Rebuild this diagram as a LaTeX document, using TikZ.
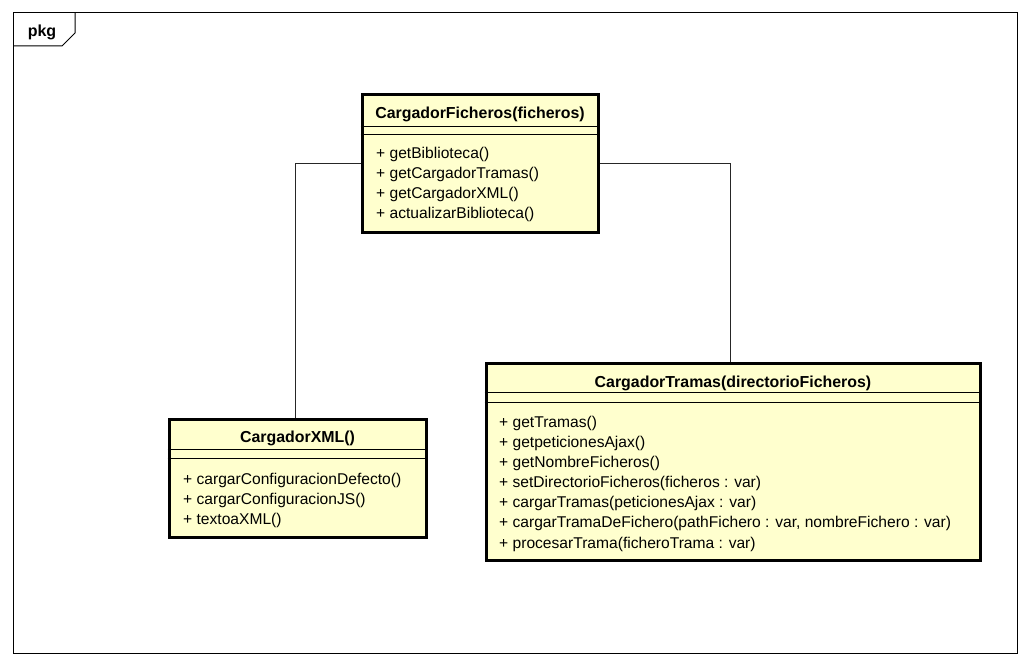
\documentclass[tikz,border=0pt]{standalone}
\usepackage{fontspec}
\setmainfont{Liberation Sans}
\usetikzlibrary{calc}
\definecolor{classfill}{RGB}{255,255,206}
\begin{document}
\begin{tikzpicture}[x=1pt,y=-1pt,
  frameline/.style={line width=1pt, draw=black},
  classbox/.style={draw=black, line width=3pt, fill=classfill, inner sep=0pt},
  sepline/.style={line width=1.2pt, draw=black},
  classtitle/.style={font=\bfseries\fontsize{15.9}{18}\selectfont, anchor=base, inner sep=0pt},
  member/.style={font=\fontsize{15.6}{18}\selectfont, anchor=base west, inner sep=0pt},
  connector/.style={line width=1pt, draw=black!85}]
\useasboundingbox (0,0) rectangle (1030,666);
\fill[white] (0,0) rectangle (1030,666);

% package frame with its name tab
\draw[frameline] (13,13) rectangle (1017,653);
\draw[frameline] (13,46) -- (62,46) -- (75,33) -- (75,13);
\node[font=\bfseries\fontsize{16}{18}\selectfont, anchor=base, inner sep=0pt] (pkg) at (42,37) {pkg};

% class boxes
\node[classbox, minimum width=236pt, minimum height=137pt] (fich) at (480,163.5) {};
\node[classbox, minimum width=257pt, minimum height=118pt] (xml) at (297.5,478) {};
\node[classbox, minimum width=494pt, minimum height=197pt] (tramas) at (733,461.5) {};

% connectors
\draw[connector] (fich.west) -| ([xshift=-2pt]xml.north);
\draw[connector] (fich.east) -| ([xshift=-3pt]tramas.north);

% CargadorFicheros
\draw[sepline] ($(fich.north west)+(0,33)$) -- ($(fich.north east)+(0,33)$);
\draw[sepline] ($(fich.north west)+(0,41)$) -- ($(fich.north east)+(0,41)$);
\node[classtitle] (fichT) at (480,118) {CargadorFicheros(ficheros)};
\node[member] (fichA) at (376,158.5) {+ getBiblioteca()};
\node[member] (fichB) at (376,178.5) {+ getCargadorTramas()};
\node[member] (fichC) at (376,198.5) {+ getCargadorXML()};
\node[member] (fichD) at (376,218.5) {+ actualizarBiblioteca()};

% CargadorXML
\draw[sepline] ($(xml.north west)+(0,32)$) -- ($(xml.north east)+(0,32)$);
\draw[sepline] ($(xml.north west)+(0,41)$) -- ($(xml.north east)+(0,41)$);
\node[classtitle] (xmlT) at (297.5,442) {CargadorXML()};
\node[member] (xmlA) at (183,484.5) {+ cargarConfiguracionDefecto()};
\node[member] (xmlB) at (183,504.5) {+ cargarConfiguracionJS()};
\node[member] (xmlC) at (183,524.5) {+ textoaXML()};

% CargadorTramas
\draw[sepline] ($(tramas.north west)+(0,31)$) -- ($(tramas.north east)+(0,31)$);
\draw[sepline] ($(tramas.north west)+(0,41)$) -- ($(tramas.north east)+(0,41)$);
\node[classtitle] (tramasT) at (733,387) {CargadorTramas(directorioFicheros)};
\node[member] (tramasA) at (499,427) {+ getTramas()};
\node[member] (tramasB) at (499,447.2) {+ getpeticionesAjax()};
\node[member] (tramasC) at (499,467.3) {+ getNombreFicheros()};
\node[member] (tramasD) at (499,487.5) {+ setDirectorioFicheros(ficheros : var)};
\node[member] (tramasE) at (499,507.7) {+ cargarTramas(peticionesAjax : var)};
\node[member] (tramasF) at (499,527.8) {+ cargarTramaDeFichero(pathFichero : var, nombreFichero : var)};
\node[member] (tramasG) at (499,548) {+ procesarTrama(ficheroTrama : var)};
\end{tikzpicture}
\end{document}
